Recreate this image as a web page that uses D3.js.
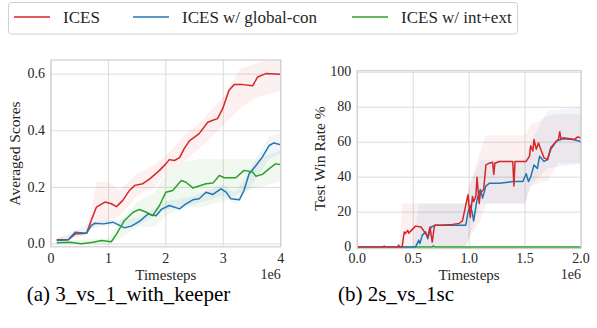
<!DOCTYPE html>
<html>
<head>
<meta charset="utf-8">
<script src="https://cdn.jsdelivr.net/npm/d3@7"></script>
<style>
  body { margin: 0; background: #fff; }
</style>
</head>
<body>
<svg id="canvas" width="597" height="328" font-family="'Liberation Serif', 'DejaVu Serif', serif"></svg>
<script>
let seriesNames = ['ICES', 'ICES w/ global-con', 'ICES w/ int+ext']
let seriesColors = ['#d62728', '#1f77b4', '#2ca02c']

// panel (a) 3_vs_1_with_keeper, timesteps in 1e6
let aRedX = [0.1, 0.3, 0.42, 0.62, 0.7, 0.79, 0.94, 1.05, 1.14, 1.25, 1.37, 1.46, 1.6, 1.72, 1.89, 2.0, 2.06, 2.15, 2.24, 2.32, 2.41, 2.58, 2.73, 2.82, 2.9, 2.99, 3.1, 3.19, 3.34, 3.51, 3.6, 3.74, 3.99]
let aRedY = [0.015, 0.015, 0.035, 0.038, 0.083, 0.13, 0.148, 0.142, 0.132, 0.154, 0.19, 0.207, 0.213, 0.23, 0.26, 0.283, 0.298, 0.295, 0.305, 0.337, 0.364, 0.39, 0.43, 0.437, 0.443, 0.478, 0.543, 0.563, 0.563, 0.559, 0.59, 0.602, 0.6]
let aBlueX = [0.1, 0.3, 0.42, 0.62, 0.7, 0.76, 0.91, 1.08, 1.2, 1.28, 1.4, 1.54, 1.69, 1.83, 1.92, 2.06, 2.24, 2.35, 2.47, 2.58, 2.7, 2.82, 2.96, 3.05, 3.13, 3.28, 3.36, 3.45, 3.57, 3.68, 3.8, 3.88, 3.99]
let aBlueY = [0.012, 0.015, 0.041, 0.038, 0.065, 0.073, 0.071, 0.077, 0.065, 0.057, 0.063, 0.08, 0.106, 0.1, 0.122, 0.136, 0.124, 0.142, 0.156, 0.16, 0.183, 0.175, 0.195, 0.183, 0.16, 0.156, 0.189, 0.248, 0.277, 0.307, 0.348, 0.357, 0.351]
let aGreenX = [0.1, 0.33, 0.53, 0.73, 0.88, 1.05, 1.14, 1.28, 1.43, 1.54, 1.66, 1.77, 1.89, 2.0, 2.12, 2.27, 2.35, 2.47, 2.7, 2.82, 2.93, 3.02, 3.22, 3.36, 3.51, 3.57, 3.68, 3.8, 3.91, 3.99]
let aGreenY = [0.004, 0.006, 0.001, 0.006, 0.012, 0.008, 0.035, 0.083, 0.112, 0.122, 0.112, 0.1, 0.136, 0.183, 0.189, 0.224, 0.218, 0.198, 0.213, 0.215, 0.242, 0.234, 0.234, 0.26, 0.254, 0.239, 0.246, 0.266, 0.283, 0.281]

// shaded bands of panel (a)
let aRedBandX = [0.1, 0.6, 0.7, 0.8, 1.0, 1.2, 1.5, 1.8, 2.0, 2.3, 2.6, 3.0, 3.3, 3.6, 4.0]
let aRedBandLo = [0.01, 0.03, 0.05, 0.07, 0.08, 0.1, 0.17, 0.2, 0.25, 0.29, 0.34, 0.42, 0.48, 0.52, 0.54]
let aRedBandHi = [0.02, 0.045, 0.12, 0.22, 0.22, 0.19, 0.25, 0.28, 0.31, 0.38, 0.43, 0.52, 0.62, 0.64, 0.66]
let aBlueBandX = [0.1, 0.7, 1.0, 1.5, 2.0, 2.5, 3.0, 3.2, 3.4, 3.6, 3.8, 4.0]
let aBlueBandLo = [0.008, 0.055, 0.065, 0.065, 0.12, 0.14, 0.17, 0.14, 0.18, 0.24, 0.3, 0.32]
let aBlueBandHi = [0.018, 0.075, 0.085, 0.09, 0.15, 0.17, 0.21, 0.18, 0.24, 0.31, 0.38, 0.39]
let aGreenBandX = [0.1, 1.0, 1.2, 1.5, 1.8, 2.0, 2.3, 2.6, 3.0, 3.3, 3.6, 4.0]
let aGreenBandLo = [0.0, 0.0, 0.02, 0.06, 0.06, 0.1, 0.13, 0.13, 0.15, 0.18, 0.2, 0.22]
let aGreenBandHi = [0.01, 0.02, 0.08, 0.15, 0.18, 0.25, 0.29, 0.3, 0.3, 0.3, 0.3, 0.33]

// panel (b) 2s_vs_1sc
let bRedX = [0, 0.23, 0.24, 0.25, 0.36, 0.37, 0.38, 0.4, 0.42, 0.43, 0.45, 0.46, 0.49, 0.52, 0.57, 0.6, 0.63, 0.65, 0.67, 0.69, 0.76, 0.85, 0.91, 0.94, 0.96, 0.97, 0.99, 1.0, 1.01, 1.03, 1.04, 1.06, 1.07, 1.09, 1.1, 1.13, 1.15, 1.18, 1.21, 1.22, 1.23, 1.27, 1.39, 1.4, 1.41, 1.51, 1.54, 1.55, 1.57, 1.58, 1.6, 1.62, 1.64, 1.67, 1.7, 1.73, 1.78, 1.8, 1.81, 1.82, 1.84, 1.9, 1.94, 1.97, 2.0]
let bRedY = [0, 0, 0.6, 0, 0, 1.2, 0, 0, 8.7, 7.7, 9.6, 8, 10, 12, 11.5, 8.7, 5.8, 11.5, 2.9, 12.5, 12.5, 13, 13.5, 15, 21, 24, 30, 23, 17, 29, 26, 29, 40, 25, 31, 33, 47, 48, 48.5, 41.5, 48, 49, 49, 35, 49, 49, 52, 58, 55, 61.5, 56, 59.6, 56, 51, 50, 57, 60.6, 62, 66, 62, 62.5, 62, 61.5, 63, 62.5]
let bBlueX = [0, 0.52, 0.55, 0.56, 0.58, 0.61, 0.63, 0.66, 0.7, 0.79, 0.91, 0.97, 0.99, 1.01, 1.03, 1.04, 1.07, 1.1, 1.12, 1.15, 1.18, 1.27, 1.39, 1.48, 1.51, 1.53, 1.55, 1.58, 1.61, 1.63, 1.67, 1.7, 1.73, 1.78, 1.84, 1.93, 1.99, 2.0]
let bBlueY = [0, 0, 4, 2, 6.7, 8.7, 4.8, 11.5, 12.5, 12.5, 12.5, 12.5, 20, 24, 19, 15, 27, 33, 28, 35, 36.5, 36.5, 37.5, 37.5, 42, 37.5, 40, 47, 45, 52, 49, 50, 56, 60.6, 62, 61.5, 60.6, 59.6]
let bGreenX = [0, 0.67, 0.68, 0.69, 2.0]
let bGreenY = [0, 0, 0.7, 0, 0]

let bRedBandX = [0, 0.38, 0.4, 0.96, 1.0, 1.1, 1.15, 1.5, 1.55, 1.7, 1.8, 2.0]
let bRedBandLo = [0, 0, 0, 0, 5, 15, 25, 25, 35, 38, 48, 48]
let bRedBandHi = [0, 0, 25, 25, 35, 55, 64, 64, 70, 75, 76, 76]
let bBlueBandX = [0, 0.5, 0.55, 0.97, 1.0, 1.1, 1.5, 1.55, 1.7, 2.0]
let bBlueBandLo = [0, 0, 0, 0, 5, 25, 25, 35, 45, 48]
let bBlueBandHi = [0, 0, 25, 25, 35, 50, 50, 60, 78, 80]
let bGreenBandX = [0, 2.0]
let bGreenBandLo = [0, 0]
let bGreenBandHi = [0, 0.4]

let aXTicks = [0, 1, 2, 3, 4]
let aYTicks = [0, 0.2, 0.4, 0.6]
let bXTicks = [0, 0.5, 1.0, 1.5, 2.0]
let bYTicks = [0, 20, 40, 60, 80, 100]

let canvas = d3.select('#canvas')
let gridColor = '#dcdcdc'
let textColor = '#262626'

let zip = (xs, ys) => xs.map((x, i) => [x, ys[i]])
let zip3 = (xs, lo, hi) => xs.map((x, i) => [x, lo[i], hi[i]])

let drawPanel = (p) => {
    let x = d3.scaleLinear().domain(p.xDomain).range(p.xRange)
    let y = d3.scaleLinear().domain(p.yDomain).range(p.yRange)
    let g = canvas.append('g')

    g.append('clipPath').attr('id', p.id + 'clip')
        .append('rect')
        .attr('x', p.xRange[0]).attr('y', p.yRange[1])
        .attr('width', p.xRange[1] - p.xRange[0])
        .attr('height', p.yRange[0] - p.yRange[1])

    // grid
    g.selectAll('.vgrid').data(p.xTicks).enter().append('line')
        .attr('x1', d => x(d)).attr('x2', d => x(d))
        .attr('y1', p.yRange[0]).attr('y2', p.yRange[1])
        .attr('stroke', gridColor).attr('stroke-width', 1)
    g.selectAll('.hgrid').data(p.yTicks).enter().append('line')
        .attr('y1', d => y(d)).attr('y2', d => y(d))
        .attr('x1', p.xRange[0]).attr('x2', p.xRange[1])
        .attr('stroke', gridColor).attr('stroke-width', 1)

    let plot = g.append('g').attr('clip-path', 'url(#' + p.id + 'clip)')

    let area = d3.area().x(d => x(d[0])).y0(d => y(d[1])).y1(d => y(d[2]))
    p.bands.forEach((b, i) => {
        plot.append('path')
            .attr('d', area(b))
            .attr('fill', seriesColors[i])
            .attr('fill-opacity', 0.07)
    })

    let line = d3.line().x(d => x(d[0])).y(d => y(d[1]))
    p.order.forEach(i => {
        plot.append('path')
            .attr('d', line(p.lines[i]))
            .attr('fill', 'none')
            .attr('stroke', seriesColors[i])
            .attr('stroke-width', 1.5)
            .attr('stroke-linejoin', 'round')
    })

    // frame
    g.append('rect')
        .attr('x', p.xRange[0]).attr('y', p.yRange[1])
        .attr('width', p.xRange[1] - p.xRange[0])
        .attr('height', p.yRange[0] - p.yRange[1])
        .attr('fill', 'none').attr('stroke', '#d0d0d0').attr('stroke-width', 1.25)

    // tick labels
    g.selectAll('.xt').data(p.xTicks).enter().append('text')
        .attr('x', d => x(d)).attr('y', 263)
        .attr('text-anchor', 'middle').attr('font-size', 14).attr('fill', textColor)
        .text(d => d3.format(p.xFormat)(d))
    g.selectAll('.yt').data(p.yTicks).enter().append('text')
        .attr('x', p.xRange[0] - 6).attr('y', d => y(d))
        .attr('dy', '0.3em')
        .attr('text-anchor', 'end').attr('font-size', 14).attr('fill', textColor)
        .text(d => d3.format(p.yFormat)(d))

    g.append('text')
        .attr('x', (p.xRange[0] + p.xRange[1]) / 2).attr('y', 280)
        .attr('text-anchor', 'middle').attr('font-size', 15).attr('fill', textColor)
        .text('Timesteps')
    g.append('text')
        .attr('x', p.xRange[1]).attr('y', 278.5)
        .attr('text-anchor', 'end').attr('font-size', 14).attr('fill', textColor)
        .text('1e6')
    g.append('text')
        .attr('transform', 'translate(' + p.yLabelX + ',' + p.yLabelY + ') rotate(-90)')
        .attr('text-anchor', 'middle').attr('dy', '0.35em').attr('font-size', 15.5)
        .attr('fill', textColor)
        .text(p.yLabel)

    g.append('text')
        .attr('x', p.captionX).attr('y', 301)
        .attr('text-anchor', 'middle').attr('font-size', 21)
        .attr('fill', '#000')
        .text(p.caption)
}

drawPanel({
    id: 'a',
    xDomain: [0, 4], xRange: [51, 280.7],
    yDomain: [-0.01, 0.65], yRange: [246.8, 60],
    xTicks: aXTicks, yTicks: aYTicks, xFormat: 'd', yFormat: '.1f',
    lines: [zip(aRedX, aRedY), zip(aBlueX, aBlueY), zip(aGreenX, aGreenY)],
    bands: [zip3(aRedBandX, aRedBandLo, aRedBandHi), zip3(aBlueBandX, aBlueBandLo, aBlueBandHi), zip3(aGreenBandX, aGreenBandLo, aGreenBandHi)],
    order: [0, 1, 2],
    yLabel: 'Averaged Scores', yLabelX: 15, yLabelY: 153.5,
    caption: '(a) 3_vs_1_with_keeper', captionX: 128.5
})

drawPanel({
    id: 'b',
    xDomain: [0, 2], xRange: [357.3, 581],
    yDomain: [-0.8, 100.9], yRange: [248.5, 70.7],
    xTicks: bXTicks, yTicks: bYTicks, xFormat: '.1f', yFormat: 'd',
    lines: [zip(bRedX, bRedY), zip(bBlueX, bBlueY), zip(bGreenX, bGreenY)],
    bands: [zip3(bRedBandX, bRedBandLo, bRedBandHi), zip3(bBlueBandX, bBlueBandLo, bBlueBandHi), zip3(bGreenBandX, bGreenBandLo, bGreenBandHi)],
    order: [2, 1, 0],
    yLabel: 'Test Win Rate %', yLabelX: 320, yLabelY: 158.5,
    caption: '(b) 2s_vs_1sc', captionX: 396
})

// legend
let legend = canvas.append('g')
legend.append('rect')
    .attr('x', 8.5).attr('y', 2.5).attr('width', 509).attr('height', 31.5)
    .attr('rx', 3).attr('fill', '#fff').attr('stroke', '#d0d0d0')
let legendX = [14, 133, 352]
seriesNames.forEach((name, i) => {
    legend.append('line')
        .attr('x1', legendX[i]).attr('x2', legendX[i] + 36)
        .attr('y1', 17).attr('y2', 17)
        .attr('stroke', seriesColors[i]).attr('stroke-width', 1.5)
    legend.append('text')
        .attr('x', legendX[i] + 49).attr('y', 22.5)
        .attr('font-size', 17).attr('fill', textColor)
        .text(name)
})
</script>
</body>
</html>
